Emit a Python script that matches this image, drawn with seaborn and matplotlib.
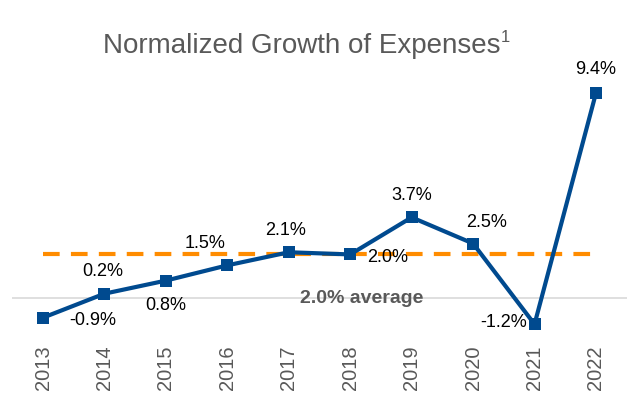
import matplotlib
matplotlib.use("Agg")
import matplotlib.pyplot as plt
import seaborn as sns
import pandas as pd

years = ["2013", "2014", "2015", "2016", "2017", "2018", "2019", "2020", "2021", "2022"]
growth = [-0.9, 0.2, 0.8, 1.5, 2.1, 2.0, 3.7, 2.5, -1.2, 9.4]
labels = ["-0.9%", "0.2%", "0.8%", "1.5%", "2.1%", "2.0%", "3.7%", "2.5%", "-1.2%", "9.4%"]
average = 2.0
# label offsets in points (dx, dy) relative to each point
offsets = [(36, -2), (-1, 16), (0, -18), (-16, 16), (-2, 16), (27, -2), (0, 16), (10, 15), (-22, 1), (0, 17)]

sns.set_theme(style="white")
plt.rcParams['font.family'] = ['Liberation Sans', 'DejaVu Sans']

df = pd.DataFrame({"x": range(len(years)), "year": years, "growth": growth})

fig = plt.figure(figsize=(6.4, 4.01), dpi=100)
ax = fig.add_axes([0.0192, 0.148, 0.96, 0.6797])

ax.axhline(0, color="#d9d9d9", lw=1.2, zorder=1)
ax.plot([0, len(years) - 1], [average, average], color="#ff8c00", lw=3,
        ls=(0, (4, 2.7)), zorder=2)
sns.lineplot(data=df, x="x", y="growth", ax=ax, color="#004a8f", lw=3,
             marker="s", markersize=8, markeredgewidth=0, zorder=3)

for i, (v, lab, off) in enumerate(zip(growth, labels, offsets)):
    ax.annotate(lab, (i, v), xytext=off, textcoords="offset points",
                ha="center", va="center", fontsize=13, color="black", zorder=4)

ax.text(5.18, 0, "2.0% average", ha="center", va="center", fontsize=14,
        fontweight="bold", color="#595959", zorder=4)

ax.set_xlim(-0.5, 9.5)
ax.set_ylim(-2, 10.5)
ax.set_xticks(range(len(years)))
ax.set_xticklabels(years, rotation=90, fontsize=14.5, color="#595959")
ax.tick_params(axis="x", length=0, pad=3)
ax.set_yticks([])
ax.set_xlabel("")
ax.set_ylabel("")
for s in ax.spines.values():
    s.set_visible(False)

fig.text(0.472, 0.886, "Normalized Growth of Expenses", ha="center", va="center",
         fontsize=20, color="#595959")
fig.text(0.782, 0.906, "1", ha="left", va="center", fontsize=12, color="#595959")

fig.savefig("out.png", dpi=100)
